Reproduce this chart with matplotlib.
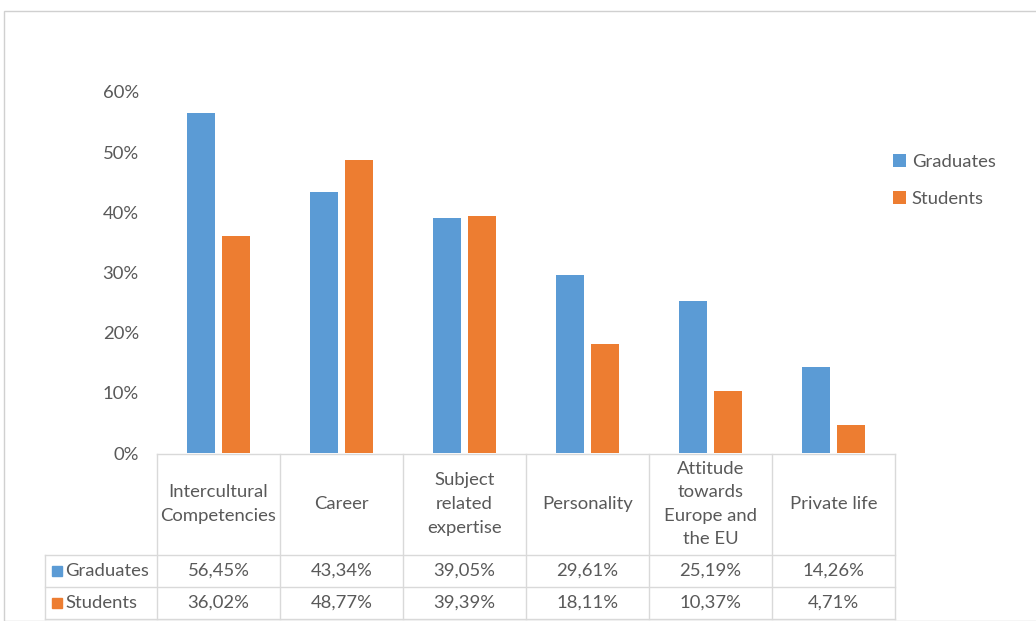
import numpy as np
import matplotlib.pyplot as plt
from matplotlib.patches import Rectangle

# values from the chart's data table
categories = ["Intercultural\nCompetencies", "Career", "Subject\nrelated\nexpertise",
              "Personality", "Attitude\ntowards\nEurope and\nthe EU", "Private life"]
graduates = [56.45, 43.34, 39.05, 29.61, 25.19, 14.26]
students = [36.02, 48.77, 39.39, 18.11, 10.37, 4.71]
series_names = ["Graduates", "Students"]
yticks = [0, 10, 20, 30, 40, 50, 60]

blue = "#5B9BD5"
orange = "#ED7D31"
txt = "#595959"
line = "#D9D9D9"
fs = 13.3

plt.rcParams['font.family'] = ['Lato', 'DejaVu Sans']

W, H = 1036, 621
fig = plt.figure(figsize=(W / 100, H / 100), dpi=100)

def px(x0, y0, x1, y1):
    # pixel box -> figure fraction [left, bottom, width, height]
    return [x0 / W, 1 - y1 / H, (x1 - x0) / W, (y1 - y0) / H]

# outer frame
fig.add_artist(Rectangle((4 / W, 0), 1.2, 1 - 11 / H, transform=fig.transFigure,
                         fill=False, edgecolor="#D0D0D0", lw=1))

ax = fig.add_axes(px(157, 92, 895, 453))
x = np.arange(len(categories))
bw = 0.23
ax.bar(x - 0.142, graduates, bw, color=blue, label=series_names[0])
ax.bar(x + 0.142, students, bw, color=orange, label=series_names[1])
ax.set_xlim(-0.5, len(categories) - 0.5)
ax.set_ylim(0, 60)
ax.set_yticks(yticks)
ax.set_yticklabels([f"{v}%" for v in yticks], color=txt, fontsize=fs)
ax.tick_params(axis="y", length=0, pad=13)
ax.set_xticks([])
for s in ax.spines.values():
    s.set_visible(False)

leg = ax.legend(loc="upper left", bbox_to_anchor=(0.975, 0.875), frameon=False,
                fontsize=fs, handlelength=0.7, handleheight=0.7,
                handletextpad=0.3, labelspacing=1.15)
for t in leg.get_texts():
    t.set_color(txt)

# data table below the plot, y in pixels
tb = fig.add_axes(px(157, 453, 895, 621))
tb.set_xlim(-0.5, len(categories) - 0.5)
tb.set_ylim(621, 453)
tb.axis("off")
colw = 123.0
xl = -0.5 - (157 - 45) / colw
kw = dict(color=line, lw=1, clip_on=False)
tb.plot([-0.5, 5.5], [453.5, 453.5], **kw)
for yy in [555, 587, 619]:
    tb.plot([xl, 5.5], [yy, yy], **kw)
for b in np.arange(-0.5, 6.0, 1.0):
    tb.plot([b, b], [453.5, 619], **kw)
tb.plot([xl, xl], [555, 619], **kw)

for i, c in enumerate(categories):
    tb.text(i, 504, c, ha="center", va="center", color=txt, fontsize=fs,
            linespacing=1.58)
    tb.text(i, 571, f"{graduates[i]:.2f}%".replace(".", ","), ha="center",
            va="center", color=txt, fontsize=fs)
    tb.text(i, 603, f"{students[i]:.2f}%".replace(".", ","), ha="center",
            va="center", color=txt, fontsize=fs)

sq = 10 / colw
for yy, col, name in [(571, blue, series_names[0]), (603, orange, series_names[1])]:
    x0 = -0.5 - (157 - 52) / colw
    tb.add_patch(Rectangle((x0, yy - 5), sq, 10, color=col, clip_on=False))
    tb.text(x0 + sq + 3 / colw, yy, name, ha="left", va="center", color=txt,
            fontsize=fs, clip_on=False)

fig.savefig("out.png", dpi=100)
